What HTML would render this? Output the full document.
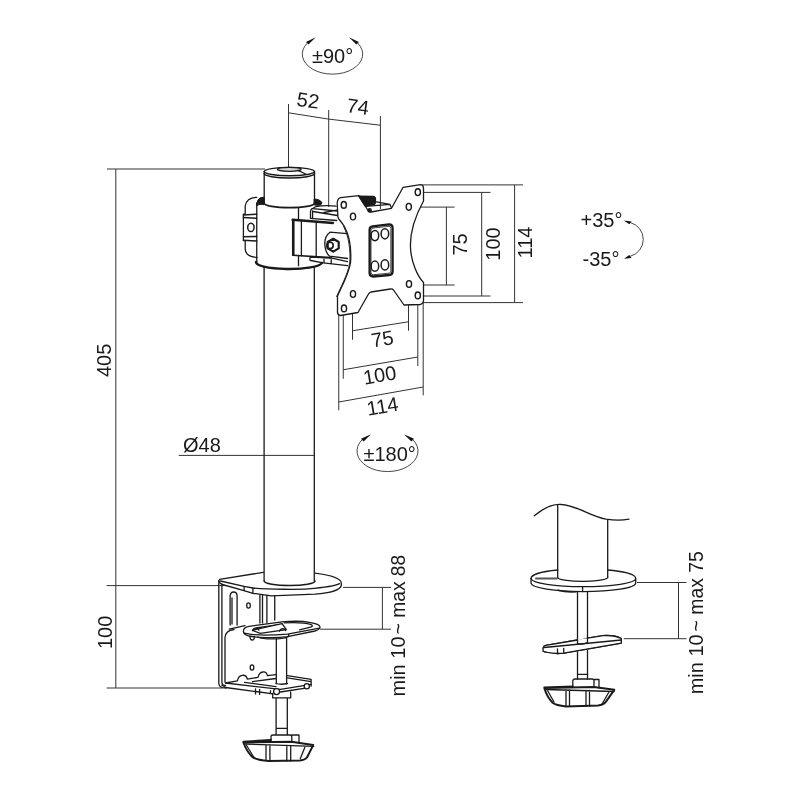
<!DOCTYPE html>
<html><head><meta charset="utf-8">
<style>
html,body{margin:0;padding:0;background:#fff;width:800px;height:800px;overflow:hidden}
svg{display:block;will-change:transform}
text{font-family:"Liberation Sans",sans-serif;fill:#1a1a1a}
.d{stroke:#333;stroke-width:1;fill:none}
.o{stroke:#1a1a1a;stroke-width:1.3;fill:none;stroke-linejoin:round;stroke-linecap:round}
.t{stroke:#1a1a1a;stroke-width:0.8;fill:none}
.w{fill:#fff}
</style></head><body>
<svg width="800" height="800" viewBox="0 0 800 800">
<!-- ===== dimension lines ===== -->
<g class="d">
  <!-- 405 -->
  <path d="M107 169H265M115.8 169V688"/>
  <!-- 100 left -->
  <path d="M106.6 585.6H225M106.6 688H223"/>
  <!-- 52 / 74 -->
  <path d="M288.5 104V170M328.7 110V207M380.4 116V209M288.5 112.8L328.7 119.1L380.2 125.2"/>
  <!-- plate 75/100/114 right -->
  <path d="M420.5 184.9H523M514.6 184.9V302.6M421 302.6H523"/>
  <path d="M420 192.4H490.5M481.7 192.4V296M420 296H490.5"/>
  <path d="M410 207.1H454.6M446.4 207.1V285M410 285H454.6"/>
  <!-- plate bottom 75/100/114 -->
  <path d="M338.75 300V410.25M343.25 308V378.75M352.5 295V339.75M408.5 284V330.75M417.8 296V366M423.2 303V395.25"/>
  <path d="M352.5 330.75L408.5 321.75M343.25 369.75L417.8 357M338.75 402L423.2 387"/>
  <!-- Ø48 -->
  <path d="M178.75 455.4H314.5"/>
  <!-- min10 max88 -->
  <path d="M343 587.4H391M382.4 587.4V629.2M320 629.2H391"/>
  <!-- min10 max75 -->
  <path d="M637 582.5H686.5M678.5 582.5V638.7M623.8 638.7H686.5"/>
</g>


<!-- ===== post top: cap + clamp ===== -->
<g class="o">
  <!-- pole -->
  <path d="M264.1 267.4V581M314.3 267.4V581"/>
  <!-- cap -->
  <path d="M264.2 171.6 A25.15 4.2 0 0 1 314.5 171.6 M264.2 171.6 V203 M314.5 171.6 V203"/>
  <path d="M264.2 171.6 A25.15 4.2 0 0 0 314.5 171.6" stroke-width="1.5"/>
  <path d="M264.2 173.6 A25.15 4.4 0 0 0 314.5 173.6" stroke-width="1.5"/>
  <ellipse cx="289.3" cy="169.3" rx="12" ry="2" fill="#d8d8d8"/>
  <path d="M297.9 170.3 L305.7 174"/>
  <path d="M264.2 202.9 A25.15 4.8 0 0 0 314.5 202.9" stroke-width="1.7"/>
  <!-- clamp cylinder -->
  <path d="M256.75 203 V262.5"/>
  <path d="M256.8 205.5 Q256.6 199 261 197.6 L264.2 197.2 V204.5 Q259.5 203.5 256.8 205.5 Z" fill="#1a1a1a" stroke-width="1"/>
  <path d="M314.5 199 Q320 199.3 321.8 202.5 Q322 205 319 205.3 L314.5 205 Z" fill="#1a1a1a" stroke-width="1"/>
  <path d="M256.2 261.8 A32.5 6.5 0 0 0 322 262.9" stroke-width="2.4"/>
  <path d="M258 264.5 A31 4.5 0 0 0 320 264.5" stroke-width="1"/>
  <path d="M298.5 208 V219.5 M298.5 255.5 V265.7"/>
  <!-- ear -->
  <path d="M256.8 197.3 Q246.5 197.5 245.2 206 V214.2 H243.4 V240.6 H245.2 V249 Q245.6 256.8 257 257.4"/>
  <path d="M243.4 215 L256.8 214.2 M243.4 217.6 L256.8 218.3 M243.4 236.7 L256.8 236.4 M243.4 240.2 L256.8 241" stroke-width="1.5"/>
  <ellipse cx="250.9" cy="227.4" rx="3.2" ry="4.2" stroke-width="1.5"/>
</g>
<!-- ===== tilt bracket ===== -->
<g class="o">
  <!-- block -->
  <path d="M292.6 219.5 V255.2 M293.9 220.5 V255 M301.4 220.3 V255.8 M316.2 221.3 V257"/>
  <path d="M292.6 219.8 L333 223" stroke-width="2.4"/>
  <path d="M292.8 255.2 L331.2 257.6" stroke-width="1.6"/>
  <!-- top swivel arm -->
  <path d="M310.5 218.3 V211.5 Q310.8 208.3 313 208.3 L316 206.5 Q326 205 336 206.2 M312.6 211 V218.5"/>
  <path d="M312.8 208.6 L337.2 211 M312.8 211.5 L337.5 215.5 M324 212.5 L337 210.2 M310.5 218.3 L336.8 220.5"/>
  <!-- bottom arm -->
  <path d="M310.2 257.1 Q309.3 260.3 310.6 260.5 L323.2 262.8 L347.5 265.6 M310.2 257.1 L332 258.2 L347.5 261.6 M324 259.2 V262.9 M331.2 259.6 V263.8"/>
  <!-- link plate -->
  <path class="w" d="M347.2 233.6 L330 232.2 Q324.6 236 324.8 244 Q325.2 252.5 329.6 256.2 L347.5 258.5"/>
  <path d="M333.2 238.8 L338.7 242 V248.4 L333.2 251.6 L327.7 248.4 V242 Z" stroke-width="2.2"/>
  <circle cx="330" cy="245.4" r="3.2" stroke-width="1.6"/>
</g>
<!-- ===== VESA plate ===== -->
<g class="o">
  <path class="w" d="M340.5 197.6 L358.9 195.7 L368.3 211 Q369.3 212.3 371 212 L391.5 208.3 L403.1 187.3 L420.5 184.6 Q423.5 184.8 423.5 188.5 L423.5 201 C418 211 410.5 228 410.4 245 C410.5 262 418 277 423.5 282.5 L423.5 300.5 Q423.3 304 420 304.5 L404 305 L393.5 290 Q392.5 288.8 390.5 289 L371 292 Q369.5 292.5 368.5 294 L358 312.5 L340.5 315.5 Q337.5 315.2 337.5 312 L337.5 296 C341 288 348.4 275 350.5 263 C351.5 250 349.5 236 344.4 226.5 C341 221 338 219 337.9 217 L337.2 203 Q337.5 198.5 340.5 197.6 Z"/>
  <path d="M336.6 296.5 C340.2 288 347.6 275 349.7 263 C350.7 250 348.7 236 343.6 226.5" stroke-width="0.9"/>
  <path d="M358.75 196.25 L373.5 196.5 Q375.6 197 375.5 199.5 L375.2 203.5 Q374.5 205 371 205.2 L365 205.8 Z" fill="#1a1a1a"/>
  <path d="M365.6 206.3 L390 204.4 M375 201.6 L390 204.4 L391.25 207.4"/>
  <circle cx="369.6" cy="210.3" r="1.6" fill="#1a1a1a"/>
  <g stroke-width="1.4">
  <ellipse cx="343.8" cy="204.9" rx="2.6" ry="3.4"/>
  <ellipse cx="353" cy="216.5" rx="2.6" ry="3.4"/>
  <ellipse cx="417.8" cy="192.2" rx="2.6" ry="3.4"/>
  <ellipse cx="408.8" cy="206.8" rx="2.6" ry="3.4"/>
  <ellipse cx="409" cy="284" rx="2.6" ry="3.4"/>
  <ellipse cx="417.8" cy="295.4" rx="2.6" ry="3.4"/>
  <ellipse cx="353" cy="294" rx="2.6" ry="3.4"/>
  <ellipse cx="344" cy="308.4" rx="2.6" ry="3.4"/>
  </g>
  <path d="M372.6 226.3 L389 224.3 Q392.6 224.3 392.6 228 L392.6 271.5 Q392.4 275 389.3 275 L373.2 276.5 Q369.6 276.5 369.6 273 L369.6 229.5 Q369.7 226.6 372.6 226.3 Z" stroke-width="2.3"/>
  <path d="M373 228 L389 226.3 Q390.8 226.3 390.8 228.5 L390.8 271 Q390.8 273 389 273.2 L373.3 274.7 Q371 274.7 371 272.5 L371 230 Q371 228.3 373 228 Z" stroke-width="0.8"/>
  <ellipse cx="374.9" cy="235.6" rx="3.8" ry="5.1" stroke-width="1.5"/>
  <ellipse cx="384.9" cy="233.8" rx="3.8" ry="5.1" stroke-width="1.5"/>
  <ellipse cx="374.9" cy="266.2" rx="3.8" ry="5.1" stroke-width="1.5"/>
  <ellipse cx="384.9" cy="264.9" rx="3.8" ry="5.1" stroke-width="1.5"/>
</g>
<!-- ===== left desk clamp ===== -->
<g class="o">
  <!-- pole bottom -->
  <path d="M264.2 581 A25.4 4.5 0 0 0 315 581" stroke-width="1.5"/>
  <!-- top plate -->
  <path d="M219.6 579.3 L263.4 572.3 M315 573.1 C330 575 341 578 341.3 583 L341.3 585.5 C340 590 330 593 315 594.2 L271.3 595.9 L252.9 593.3 L244 590.6 L222.3 584.5 Q219 583 219 581"/>
  <path d="M220.5 581 L244.1 586.3 L252.9 588 C270 589.5 300 589.5 308 588.9 C325 587.5 337 585 339.5 583.6"/>
  <path d="M244.1 586.3 V590.6 M252.9 588 V593.3"/>
  <!-- back plate -->
  <path d="M218.8 580.5 V684 Q219.5 688 226 688"/>
  <path d="M221.9 584 V682 Q222 685.5 225.5 685.5"/>
  <path d="M225 637.5 Q225.5 630.5 234 629.5 M225 637.5 V682"/>
  <path d="M230.1 625 V596 Q230.5 592 233.6 592 Q237 592 237.1 596 V625 M232 624 V598"/>
  <ellipse cx="248.5" cy="605.5" rx="1.8" ry="2.6"/>
  <path d="M259.9 595 V623 M262.5 595 V623 M266.9 595.5 V623 M274.75 596 V620"/>
  <path d="M229.3 629.1 L245 625.6"/>
  <!-- swivel oval -->
  <path class="w" d="M243.5 631.8 C243 628.5 246 626.8 249 626.3 L282 621.9 C295 620.8 305 621.5 309.5 622.45 C316 623.5 320.5 625 320 627.4 C319.5 629 317 630.5 315 631 L287.5 636.6 C275 638.5 255 637.5 249 636 C245.5 635 243.7 633.5 243.5 631.8 Z"/>
  <path d="M284.2 622.8 C296 622.2 306 622.9 310.6 624.3 C313 625.4 313 626.4 310.5 627.2 L299.6 629.8 M256 628 L282.5 624.2"/>
  <path class="w" d="M252.3 630.2 L282 623.6 L286.4 629.6 L260 633.45 Z"/>
  <path d="M252.8 630.6 A3.2 3 0 0 1 259 630.2 M279.5 631.2 A3.2 3 0 0 1 285.6 630.6"/>
  <path d="M244.2 633.2 C252 635.2 270 635.4 287.5 634.2 L319.5 628.2 M288.6 634.2 V636.5"/>
  <path d="M257.8 637 C263 639.6 282 639.6 287.5 637"/>
  <path d="M250 636.5 Q250 640 252.2 640 Q254.5 640 254.5 636.5"/>
  <!-- screw shaft -->
  <path d="M276.3 639 V683.8 M286.6 638.5 V683.8"/>
  <!-- bottom plate -->
  <path d="M221.75 685 L225.5 687.5"/>
  <path d="M225.5 683 L237.4 680.9 C238.5 674 246 673.5 247.4 679.2 L258 677.3 C259.5 670.5 266.5 670.5 267.4 675.7 L276 674.6"/>
  <path d="M287.4 675.6 L311.1 679.4 V686.2 M287.4 677.8 L311 681.6"/>
  <path d="M225.5 683 L280.5 689.4 L311.1 684.4 M225.5 687.5 L273 693.8 M280.5 692 L305.5 688.2"/>
  <path d="M244.5 682.3 L276 686.6 M252.5 681.6 L276 678.5 M276 683.5 Q281 685 287.4 683.5"/>
  <ellipse cx="252" cy="667.5" rx="1.8" ry="2.6"/>
  <path d="M255.5 688.8 V693.9 M259.6 689.3 V694.4 M270.5 690.6 V693.6"/>
  <circle cx="276.6" cy="691.6" r="3" class="w"/>
  <circle cx="306.8" cy="686.3" r="2.6" class="w"/>
  <!-- lower shaft + collar -->
  <path d="M272.7 693.4 V697.9 H290.7 V692 M276.1 697.9 V734.4 M287.3 697.9 V734.4 M276.1 728.3 H287.3"/>
  <!-- knob -->
  <path d="M271 740 V736.5 Q271 735 273 735 H290 Q291.8 735 291.8 737 V742 M291.8 735 H299 V743"/>
  <path d="M243.4 741.8 L271 740 M291.3 741.8 L313.2 745.1 L307 757.5 Q305 760 300 760.5 L268.8 760.9 Q256 760 251.9 756.4 Q247 752 243.4 742.5 Z" stroke-width="2"/>
  <path d="M245 744 L313.8 746.3 M266 744.8 V760.5 M269.9 745 V760.7 M286.8 745.5 V761 M290.7 745.6 V761 M246.3 745 L254 757.5 M304.8 747.4 L300.3 758.6"/>
</g>
<!-- ===== right desk clamp ===== -->
<g class="o">
  <path d="M534.3 515.7 C545 507 555 503.5 562 504.5 C578 506 590 516 606 519.2 C615 520.5 622 520.5 628.9 519.2"/>
  <path d="M557.7 504.6 V577.7 M607.7 520 V577"/>
  <path d="M557.7 577.7 A25 4 0 0 0 607.7 577"/>
  <!-- disc -->
  <path d="M557.7 570 C540 571.5 531 575 531 578.6 L531 583 C531.5 588 555 591.6 583 591.6 C612 591.6 635.7 588 635.7 583 V578.5 C635.7 574 622 571 607.7 570"/>
  <path d="M531 578.6 C532 583 555 586.7 583 586.7 C612 586.7 635.7 583 635.7 578.5"/>
  <path d="M536 578.6 H556.6" stroke-width="2" stroke="#555"/>
  <path d="M558 590.2 Q566 592.5 576 591.8" stroke-width="1.6"/>
  <path d="M582.6 586.7 V591.6"/>
  <!-- shaft -->
  <path d="M577.5 591.6 V643 M587.5 591.6 V643 M577.5 652 V679 M587.5 650.5 V679"/>
  <!-- pad -->
  <path class="w" d="M543.1 648 Q543.5 645.8 546 645.3 L577.5 640 M587.5 638.1 L603 635.6 Q615 635 621.25 638.5 V643.1 L563.75 653.1 L557.5 653.5 Q546 652.5 543.1 651.25 Z"/>
  <path d="M543.1 648 Q543.5 645.8 546 645.3 L603 635.6 Q615 635 621.25 638.5 V643.1 L563.75 653.1 L557.5 653.5 Q546 652.5 543.1 651.25 Z" fill="#fff" stroke="none"/>
  <path d="M543.1 648 Q543.5 645.8 546 645.3 L577.5 640 M587.5 638.1 L603 635.6 Q615 635 621.25 638.5 V643.1 L563.75 653.1 L557.5 653.5 Q546 652.5 543.1 651.25 V648"/>
  <path d="M577.5 640 V643.5 Q582 645 587.5 642.5 V638.1"/>
  <path d="M544.4 647.5 L621.25 640 M557.5 649 V653.5 M563.75 648.5 V653.1"/>
  <!-- knob -->
  <path d="M572.8 687 V681 Q573 679 575 679 H592 Q594 679 594 681 V687 M594 679.5 H599 V688 M577.5 674.3 H587.7"/>
  <path d="M544.3 687.4 L572.8 686.5 M594 687 L614.3 689.8 L606 701.6 Q604 705 598 705.5 L566 706.4 Q556 705.5 552.6 702.8 Q547 697 544.3 688 Z" stroke-width="2"/>
  <path d="M546 689.5 L614 691.5 M566 690 V706 M569.5 690 V706 M586 690.5 V706 M589.5 690.5 V706 M547.5 690.5 L554 702 M609 692 L602 704"/>
</g>
<!-- ===== rotation arrows ===== -->
<g class="t" stroke-width="1.1" stroke="#111">
  <path d="M307.2 43.2 A30.2 20 0 1 0 357.6 43"/>
  <path d="M362.3 439.5 A30.5 20.5 0 1 0 412.7 439.5"/>
  <path d="M630.4 222.6 A17.4 17.4 0 0 1 630.4 256.2"/>
</g>
<g fill="#111">
  <path d="M315.8 37.2 L306 42 L308.4 44.6 Z"/>
  <path d="M349 37.2 L358.8 42 L356.4 44.6 Z"/>
  <path d="M371.1 434.2 L361 438.7 L363.6 441.6 Z"/>
  <path d="M403.9 434.2 L414 438.7 L411.4 441.6 Z"/>
  <path d="M623.9 220.6 L631.6 221.4 L629.3 224.2 Z"/>
  <path d="M623.9 258.7 L631.6 257.9 L629.3 255.1 Z"/>
</g>
<!-- ===== text ===== -->
<g font-size="20">
  <text x="0" y="0" transform="translate(111 377) rotate(-90)">405</text>
  <text x="0" y="0" transform="translate(111.9 649) rotate(-90)">100</text>
  <text x="297" y="107.2" transform="rotate(7.8 307 100)">52</text>
  <text x="347" y="113.5" transform="rotate(7.8 357 106)">74</text>
  <text x="0" y="0" transform="translate(466.5 255.5) rotate(-90)">75</text>
  <text x="0" y="0" transform="translate(499.5 260.7) rotate(-90)">100</text>
  <text x="0" y="0" transform="translate(531.5 258.5) rotate(-90)">114</text>
  <text x="371" y="346" transform="rotate(-9.5 381 338)">75</text>
  <text x="363" y="382" transform="rotate(-9.5 380 375)">100</text>
  <text x="366.5" y="413" transform="rotate(-9.5 384 406)">114</text>
  <text x="183" y="451.5">Ø48</text>
  <text x="312" y="62.7">±90°</text>
  <text x="363.5" y="460.5">±180°</text>
  <text x="580.5" y="226.5">+35°</text>
  <text x="582.5" y="266">-35°</text>
  <text x="0" y="0" transform="translate(405 696.5) rotate(-90)">min 10</text>
  <text x="0" y="0" transform="translate(405 634.3) rotate(-90) scale(0.96 1)">~ max 88</text>
  <text x="0" y="0" transform="translate(703 694.3) rotate(-90)">min 10</text>
  <text x="0" y="0" transform="translate(703 631.4) rotate(-90) scale(0.97 1)">~ max 75</text>
</g>
</svg>
</body></html>
